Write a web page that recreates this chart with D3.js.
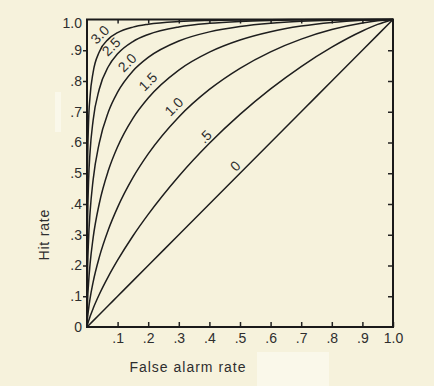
<!DOCTYPE html>
<html>
<head>
<meta charset="utf-8">
<script src="https://cdn.jsdelivr.net/npm/d3@7"></script>
<style>
  html, body { margin: 0; padding: 0; background: #f6f2dc; }
  svg { display: block; }
  text { font-family: "Liberation Sans", "DejaVu Sans", sans-serif; fill: #2e2e2e; }
</style>
</head>
<body>
<svg id="roc" width="434" height="386"></svg>
<script>
// false alarm rate (x) shared by all curves
const falseAlarm = [0, .001, .005, .01, .02, .04, .07, .1, .15, .2, .3, .4, .5, .6, .7, .8, .9, .95, 1];

// hit rate (y)
const hit00 = [0, .001, .005, .01, .02, .04, .07, .1, .15, .2, .3, .4, .5, .6, .7, .8, .9, .95, 1];
const hit05 = [0, .0048, .019, .0339, .0601, .1055, .1645, .2171, .296, .3662, .4904, .5976, .6915, .7743, .8471, .9102, .9627, .984, 1];
const hit10 = [0, .0183, .0575, .0924, .1459, .2263, .317, .389, .4856, .5628, .683, .7725, .8413, .8949, .9362, .9673, .9888, .9959, 1];
const hit15 = [0, .0559, .141, .2044, .2898, .4009, .5096, .5863, .6787, .7447, .8355, .8938, .9332, .9602, .9785, .9904, .9973, .9992, 1];
const hit20 = [0, .1379, .2823, .3722, .4785, .5983, .6999, .7636, .8325, .8766, .93, .9597, .9772, .9879, .9942, .9978, .9995, .9999, 1];
const hit25 = [0, .2776, .4697, .5691, .6722, .7731, .8471, .8884, .9284, .9513, .9759, .9877, .9938, .997, .9988, .9997, .9999, 1, 1];
const hit30 = [0, .4641, .6642, .7498, .8279, .8942, .9362, .9571, .9752, .9845, .9934, .997, .9987, .9995, .9998, 1, 1, 1, 1];

// curve labels and where they sit (in data units)
const curveLabels = ["3.0", "2.5", "2.0", "1.5", "1.0", ".5", "0"];
const labelFA = [.042, .079, .131, .199, .284, .386, .484];
const labelHit = [.951, .912, .860, .798, .717, .619, .524];

const xTicks = [.1, .2, .3, .4, .5, .6, .7, .8, .9, 1];
const yTicks = [0, .1, .2, .3, .4, .5, .6, .7, .8, .9, 1];

const series = [hit30, hit25, hit20, hit15, hit10, hit05, hit00];

/* ================================
   SCALES
================================ */
const svg = d3.select("#roc");

const x = d3.scaleLinear().domain([0, 1]).range([87, 393]);
const y = d3.scaleLinear().domain([0, 1]).range([327, 19.5]);

const fmt = d => d === 1 ? "1.0" : (d === 0 ? "0" : d3.format(".1f")(d).slice(1));

// paper blemishes from the scan
svg.append("rect").attr("x", 257).attr("y", 352).attr("width", 72).attr("height", 34)
  .attr("fill", "#faf8ea");
svg.append("rect").attr("x", 55).attr("y", 92).attr("width", 6).attr("height", 40)
  .attr("fill", "#faf8ea");

/* ================================
   AXES
================================ */
const xAxisG = svg.append("g")
  .attr("transform", `translate(0,${y(0)})`)
  .call(d3.axisBottom(x).tickValues(xTicks).tickFormat(fmt)
    .tickSizeInner(-5).tickSizeOuter(0).tickPadding(6));

const topAxisG = svg.append("g")
  .attr("transform", `translate(0,${y(1)})`)
  .call(d3.axisTop(x).tickValues(xTicks.slice(0, 9)).tickFormat("")
    .tickSizeInner(-4).tickSizeOuter(0));

const yAxisG = svg.append("g")
  .attr("transform", `translate(${x(0)},0)`)
  .call(d3.axisLeft(y).tickValues(yTicks).tickFormat(fmt)
    .tickSizeInner(4).tickSizeOuter(0).tickPadding(1));

const rightAxisG = svg.append("g")
  .attr("transform", `translate(${x(1)},0)`)
  .call(d3.axisRight(y).tickValues(yTicks.slice(1, 10)).tickFormat("")
    .tickSizeInner(-5).tickSizeOuter(0));

[xAxisG, topAxisG, yAxisG, rightAxisG].forEach(g => {
  g.select(".domain").remove();
  g.selectAll("line").attr("stroke", "#222").attr("stroke-width", 1.5);
  g.selectAll("text").attr("font-size", 14).attr("fill", "#2e2e2e");
});
yAxisG.selectAll(".tick line").filter(d => d === 0 || d === 1).remove();
yAxisG.selectAll(".tick text").filter(d => d === 1).attr("dy", "0.6em");

/* ================================
   CURVES
================================ */
const line = d3.line()
  .x(d => x(d[0]))
  .y(d => y(d[1]))
  .curve(d3.curveMonotoneX);

svg.append("g")
  .selectAll("path")
  .data(series)
  .join("path")
  .attr("fill", "none")
  .attr("stroke", "#1e1e1e")
  .attr("stroke-width", 1.5)
  .attr("d", hits => line(falseAlarm.map((f, i) => [f, hits[i]])));

// frame
svg.append("rect")
  .attr("x", x(0)).attr("y", y(1))
  .attr("width", x(1) - x(0)).attr("height", y(0) - y(1))
  .attr("fill", "none").attr("stroke", "#1a1a1a").attr("stroke-width", 2);

/* ================================
   LABELS
================================ */
svg.append("g")
  .selectAll("text")
  .data(curveLabels)
  .join("text")
  .attr("font-size", 14)
  .attr("text-anchor", "middle")
  .attr("dominant-baseline", "central")
  .attr("transform", (d, i) => `translate(${x(labelFA[i])},${y(labelHit[i])}) rotate(-45)`)
  .text(d => d);

svg.append("text")
  .attr("x", x(.33))
  .attr("y", 372)
  .attr("text-anchor", "middle")
  .attr("font-size", 14)
  .attr("letter-spacing", 1)
  .text("False alarm rate");

svg.append("text")
  .attr("transform", `translate(49,${y(.3)}) rotate(-90)`)
  .attr("text-anchor", "middle")
  .attr("font-size", 14)
  .attr("letter-spacing", 0.8)
  .text("Hit rate");
</script>
</body>
</html>
